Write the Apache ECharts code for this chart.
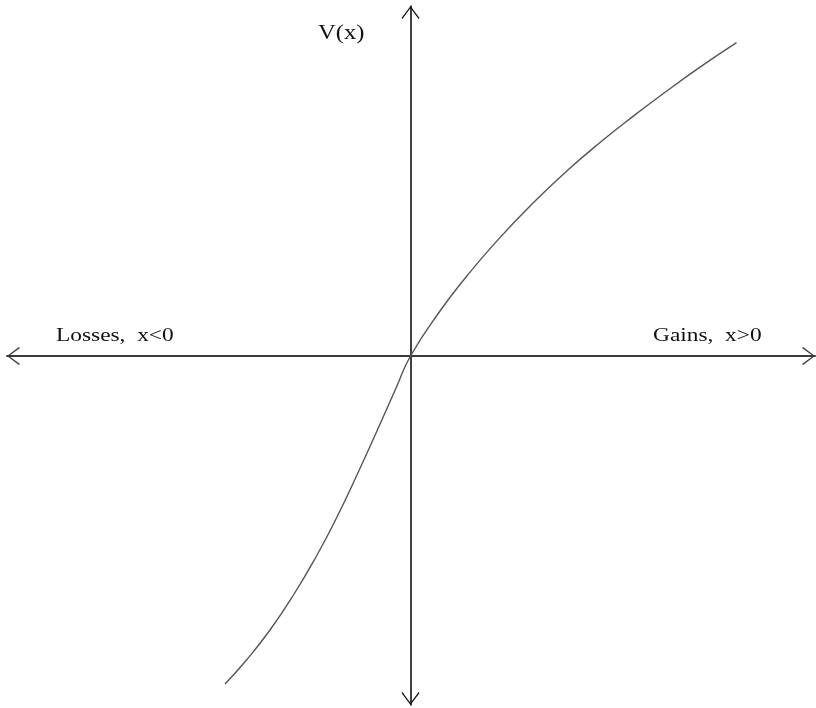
<!DOCTYPE html>
<html>
<head>
<meta charset="utf-8">
<script src="https://cdn.jsdelivr.net/npm/echarts@6/dist/echarts.min.js"></script>
<style>
  html, body { margin: 0; padding: 0; background: #fff; }
  #chart { width: 816px; height: 708px; }
</style>
</head>
<body>
<div id="chart"></div>
<script>
// value function V(x): gains (x>0) and losses (x<0)
const xValues = [-185.5, -164, -140.5, -117, -94, -74, -54, -34, -14, 0, 29.5, 56, 86, 122.5, 156, 189.5, 222.5, 256, 289.5, 326];
const vValues = [-328, -304, -274, -239, -200, -162, -120, -76, -31, 0, 45, 79.5, 114.6, 152.9, 184.7, 213.5, 239.6, 264.7, 288.8, 313.3];

const xLabelLeft = 'Losses,  x<0';
const xLabelRight = 'Gains,  x>0';
const yLabel = 'V(x)';

// open arrow head (chevron), tip at top
const chevron = 'path://M50,0 L100,66 L95,72 L50,11 L5,72 L0,66 Z';

const chart = echarts.init(document.getElementById('chart'));

const serif = '"Liberation Serif", "Times New Roman", serif';

chart.setOption({
  animation: false,
  backgroundColor: '#fff',
  grid: { left: 7, right: 1, top: 6, bottom: 3, containLabel: false },
  xAxis: {
    type: 'value',
    min: -403.5,
    max: 404.5,
    axisLine: {
      onZero: true,
      symbol: [chevron, chevron],
      symbolSize: [18, 13],
      symbolOffset: [6.5, -6.5],
      lineStyle: { color: '#3a3a3a', width: 2 }
    },
    axisTick: { show: false },
    axisLabel: { show: false },
    splitLine: { show: false }
  },
  yAxis: {
    type: 'value',
    min: -349,
    max: 350,
    axisLine: {
      onZero: true,
      symbol: [chevron, chevron],
      symbolSize: [18, 13],
      symbolOffset: [6.5, -6.5],
      lineStyle: { color: '#111', width: 1.6 }
    },
    axisTick: { show: false },
    axisLabel: { show: false },
    splitLine: { show: false }
  },
  graphic: [
    {
      type: 'text', x: 56, y: 346, scaleX: 1.23,
      style: { text: xLabelLeft, font: '19px ' + serif, fill: '#111', textVerticalAlign: 'bottom' }
    },
    {
      type: 'text', x: 653, y: 346, scaleX: 1.23,
      style: { text: xLabelRight, font: '19px ' + serif, fill: '#111', textVerticalAlign: 'bottom' }
    },
    {
      type: 'text', x: 318, y: 44, scaleX: 1.23,
      style: { text: yLabel, font: '20px ' + serif, fill: '#111', textVerticalAlign: 'bottom' }
    }
  ],
  series: [{
    type: 'line',
    data: xValues.map((x, i) => [x, vValues[i]]),
    smooth: 0.5,
    showSymbol: false,
    lineStyle: { color: '#555', width: 1.4 }
  }]
});
</script>
</body>
</html>
